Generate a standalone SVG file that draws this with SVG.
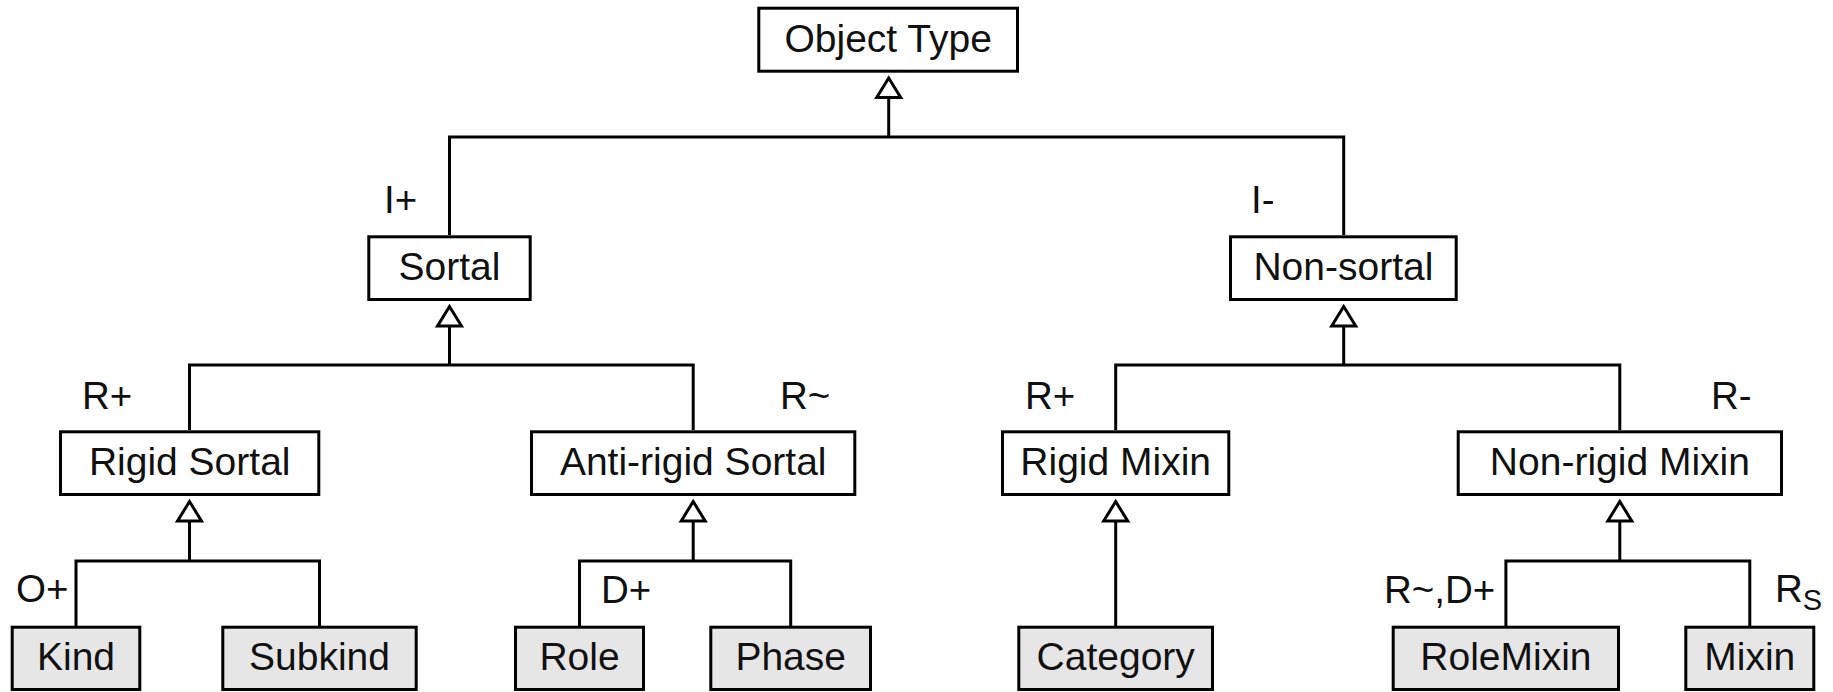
<svg xmlns="http://www.w3.org/2000/svg" width="1833" height="692" viewBox="0 0 1833 692">
  <style>
    .box { fill: #ffffff; stroke: #000000; stroke-width: 3; }
    .leaf { fill: #e6e6e6; stroke: #000000; stroke-width: 3; }
    .name { font-family: "Liberation Sans", Arial, sans-serif; font-size: 39px; fill: #111111; text-anchor: middle; }
    .lbl { font-family: "Liberation Sans", Arial, sans-serif; font-size: 38.5px; fill: #111111; }
    .sub { font-size: 29px; }
    .conn { fill: none; stroke: #000000; stroke-width: 3; }
    .gen { marker-end: url(#tri); }
  </style>
  <defs>
    <marker id="tri" markerUnits="userSpaceOnUse" viewBox="-24 -16 28 32" refX="0" refY="0" markerWidth="28" markerHeight="32" orient="auto" overflow="visible">
      <polygon points="0,0 -19.5,-12 -19.5,12" fill="#ffffff" stroke="#000000" stroke-width="3"/>
    </marker>
  </defs>
  <rect width="1833" height="692" fill="#ffffff"/>

  <g id="connectors">
    <path class="conn gen" d="M888.7,137 V78"/>
    <path class="conn" d="M449.5,235 V137 H1343.7 V235"/>
    <path class="conn gen" d="M449.5,365 V306.5"/>
    <path class="conn" d="M189.5,430 V365 H693.2 V430"/>
    <path class="conn gen" d="M1343.7,365 V306.5"/>
    <path class="conn" d="M1115.7,430 V365 H1619.8 V430"/>
    <path class="conn gen" d="M189.5,561 V501.5"/>
    <path class="conn" d="M76,626 V561 H319.5 V626"/>
    <path class="conn gen" d="M693.2,561 V501.5"/>
    <path class="conn" d="M579.5,626 V561 H790.7 V626"/>
    <path class="conn gen" d="M1115.7,626 V501.5"/>
    <path class="conn gen" d="M1619.8,561 V501.5"/>
    <path class="conn" d="M1505.9,626 V561 H1749.8 V626"/>
  </g>

  <g id="labels">
    <text class="lbl" x="384" y="213">I+</text>
    <text class="lbl" x="1251" y="213">I-</text>
    <text class="lbl" x="82" y="409">R+</text>
    <text class="lbl" x="780" y="409">R~</text>
    <text class="lbl" x="1025" y="409">R+</text>
    <text class="lbl" x="1711" y="409">R-</text>
    <text class="lbl" x="16" y="602">O+</text>
    <text class="lbl" x="601" y="603">D+</text>
    <text class="lbl" x="1384" y="603">R~,D+</text>
    <text class="lbl" x="1775" y="602">R<tspan class="sub" dy="8">S</tspan></text>
  </g>

  <g id="object-type">
    <rect class="box" x="758.8" y="8.2" width="258.7" height="63"/>
    <text class="name" x="888.2" y="51.8">Object Type</text>
  </g>
  <g id="sortal">
    <rect class="box" x="368.8" y="236.8" width="161.4" height="62.7"/>
    <text class="name" x="449.5" y="279.5">Sortal</text>
  </g>
  <g id="non-sortal">
    <rect class="box" x="1230.5" y="236.8" width="225.7" height="62.7"/>
    <text class="name" x="1343.4" y="279.5">Non-sortal</text>
  </g>
  <g id="rigid-sortal">
    <rect class="box" x="60.5" y="431.8" width="258.3" height="62.7"/>
    <text class="name" x="189.7" y="474.5">Rigid Sortal</text>
  </g>
  <g id="anti-rigid-sortal">
    <rect class="box" x="531.5" y="431.8" width="323.3" height="62.7"/>
    <text class="name" x="693.2" y="474.5">Anti-rigid Sortal</text>
  </g>
  <g id="rigid-mixin">
    <rect class="box" x="1002.5" y="431.8" width="226.3" height="62.7"/>
    <text class="name" x="1115.7" y="474.5">Rigid Mixin</text>
  </g>
  <g id="non-rigid-mixin">
    <rect class="box" x="1458.2" y="431.8" width="323.3" height="62.7"/>
    <text class="name" x="1619.9" y="474.5">Non-rigid Mixin</text>
  </g>
  <g id="kind">
    <rect class="leaf" x="12.2" y="627.2" width="127.6" height="62.3"/>
    <text class="name" x="76" y="669.5">Kind</text>
  </g>
  <g id="subkind">
    <rect class="leaf" x="222.8" y="627.2" width="193.4" height="62.3"/>
    <text class="name" x="319.5" y="669.5">Subkind</text>
  </g>
  <g id="role">
    <rect class="leaf" x="515.5" y="627.2" width="128" height="62.3"/>
    <text class="name" x="579.5" y="669.5">Role</text>
  </g>
  <g id="phase">
    <rect class="leaf" x="710.8" y="627.2" width="159.7" height="62.3"/>
    <text class="name" x="790.7" y="669.5">Phase</text>
  </g>
  <g id="category">
    <rect class="leaf" x="1018.8" y="627.2" width="193.7" height="62.3"/>
    <text class="name" x="1115.7" y="669.5">Category</text>
  </g>
  <g id="rolemixin">
    <rect class="leaf" x="1393.2" y="627.2" width="225.3" height="62.3"/>
    <text class="name" x="1505.9" y="669.5">RoleMixin</text>
  </g>
  <g id="mixin">
    <rect class="leaf" x="1685.8" y="627.2" width="128" height="62.3"/>
    <text class="name" x="1749.8" y="669.5">Mixin</text>
  </g>
</svg>
